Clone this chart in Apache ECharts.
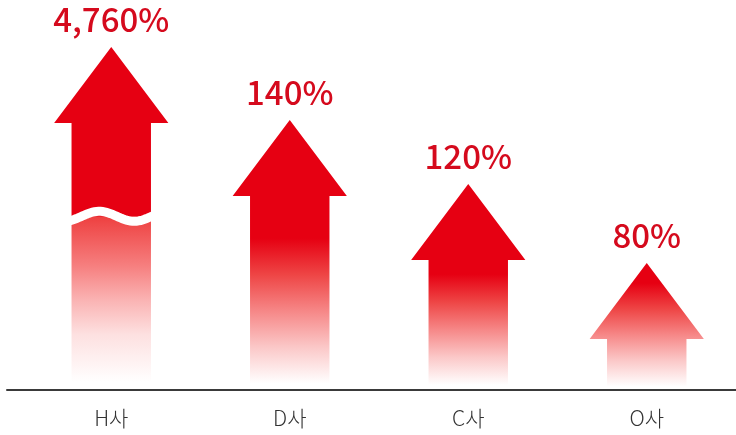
<!DOCTYPE html>
<html>
<head>
<meta charset="utf-8">
<script src="https://cdn.jsdelivr.net/npm/echarts@6/dist/echarts.min.js"></script>
<style>
  html, body { margin: 0; padding: 0; background: #fff; }
  #chart { width: 736px; height: 435px; }
</style>
</head>
<body>
<div id="chart"></div>
<script>
const companies = ['H사', 'D사', 'C사', 'O사'];
const growthRates = [4760, 140, 120, 80];
// arrow heights on the drawing axis (the picture is not to scale)
const arrowHeights = [343, 270, 206, 127];
// H사 bar is drawn with a break
const brokenBars = [true, false, false, false];

// where the fade to white starts, as a share of each arrow's height
const fadeStart = [0.495, 0.44, 0.44, 0.16];

const RED = '#e60012';
const LABEL_RED = '#d50a1d';
const FONT = '"Noto Sans CJK KR", "Noto Sans", sans-serif';

function makeStops(idx) {
  const f = fadeStart[idx];
  if (brokenBars[idx]) {
    return [
      { offset: 0, color: RED },
      { offset: f, color: RED },
      { offset: f + 0.001, color: '#ee4040' },
      { offset: 0.64, color: '#f67f7f' },
      { offset: 0.74, color: '#fab3b3' },
      { offset: 0.84, color: '#fde0e0' },
      { offset: 0.98, color: '#ffffff' }
    ];
  }
  const d = 0.98 - f;
  return [
    { offset: 0, color: RED },
    { offset: f, color: RED },
    { offset: f + d * 0.25, color: '#ee4545' },
    { offset: f + d * 0.5, color: '#f68787' },
    { offset: f + d * 0.75, color: '#fbc8c8' },
    { offset: 0.98, color: '#ffffff' }
  ];
}

function renderItem(params, api) {
  const idx = params.dataIndex;
  const base = api.coord([api.value(0), 0]);
  const tip = api.coord([api.value(0), api.value(1)]);
  const band = api.size([1, 0])[0];
  const cx = base[0];
  const headW = band * 0.64;
  const shaftW = band * 0.445;
  const headH = 76;
  const bottom = base[1] - 1;

  const children = [{
    type: 'polygon',
    shape: {
      points: [
        [cx, tip[1]],
        [cx + headW / 2, tip[1] + headH],
        [cx + shaftW / 2, tip[1] + headH],
        [cx + shaftW / 2, bottom],
        [cx - shaftW / 2, bottom],
        [cx - shaftW / 2, tip[1] + headH],
        [cx - headW / 2, tip[1] + headH]
      ]
    },
    style: {
      fill: new echarts.graphic.LinearGradient(0, 0, 0, 1, makeStops(idx))
    }
  }];

  if (brokenBars[idx]) {
    const waveY = tip[1] + (bottom - tip[1]) * fadeStart[idx];
    const pts = [];
    for (let x = -shaftW / 2 - 3; x <= shaftW / 2 + 3; x += 2) {
      pts.push([cx + x, waveY - 5 * Math.sin(2 * Math.PI * (x + 12) / 70 + Math.PI / 2)]);
    }
    children.push({
      type: 'polyline',
      shape: { points: pts },
      style: { stroke: '#fff', lineWidth: 9, fill: null }
    });
  }

  children.push({
    type: 'text',
    style: {
      text: growthRates[idx].toLocaleString('en-US') + '%',
      x: cx,
      y: tip[1] - 11,
      align: 'center',
      verticalAlign: 'bottom',
      fontSize: 33,
      lineHeight: 33,
      fontWeight: 500,
      fontFamily: FONT,
      fill: LABEL_RED
    }
  });

  return { type: 'group', children: children };
}

const chart = echarts.init(document.getElementById('chart'), null, { renderer: 'canvas' });

chart.setOption({
  animation: false,
  grid: [
    { left: 22, right: -7, top: 0, bottom: 45 },
    { left: 7, right: 0, top: 0, bottom: 45 }
  ],
  xAxis: [
    {
      type: 'category',
      gridIndex: 0,
      data: companies,
      axisLine: { show: false },
      axisTick: { show: false },
      axisLabel: {
        margin: 18,
        fontSize: 21,
        color: '#333',
        fontFamily: FONT,
        fontWeight: 300
      }
    },
    {
      type: 'value',
      gridIndex: 1,
      position: 'bottom',
      axisLine: { show: true, onZero: false, lineStyle: { color: '#3a3a3a', width: 2 } },
      axisTick: { show: false },
      axisLabel: { show: false },
      splitLine: { show: false }
    }
  ],
  yAxis: [
    { type: 'value', gridIndex: 0, min: 0, max: 390, show: false },
    { type: 'value', gridIndex: 1, show: false }
  ],
  series: [{
    type: 'custom',
    xAxisIndex: 0,
    yAxisIndex: 0,
    renderItem: renderItem,
    data: companies.map((c, i) => [i, arrowHeights[i]])
  }]
});
</script>
</body>
</html>
